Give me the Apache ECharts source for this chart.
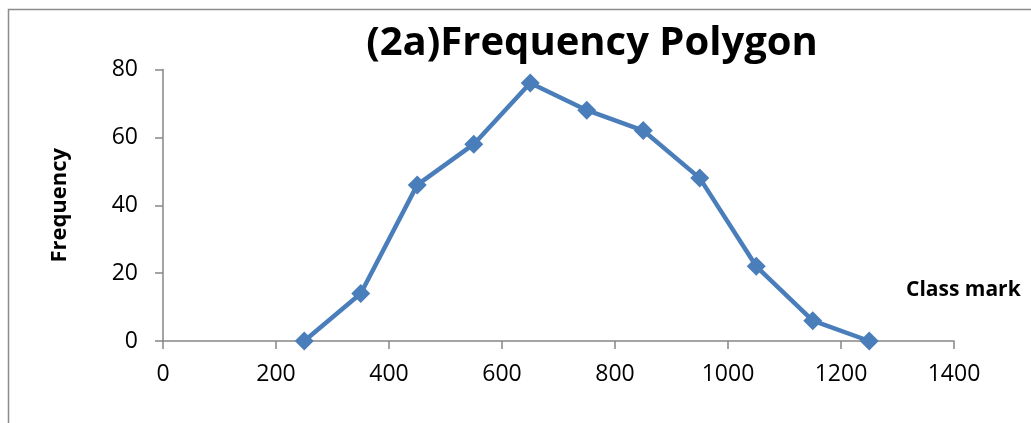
<!DOCTYPE html>
<html>
<head>
<meta charset="utf-8">
<script src="https://cdn.jsdelivr.net/npm/echarts@6/dist/echarts.min.js"></script>
<style>
html,body{margin:0;padding:0;background:#fff;}
#chart{width:1031px;height:423px;}
</style>
</head>
<body>
<div id="chart"></div>
<script>
var classMarks = [250, 350, 450, 550, 650, 750, 850, 950, 1050, 1150, 1250];
var frequencies = [0, 14, 46, 58, 76, 68, 62, 48, 22, 6, 0];
var xTicks = [0, 200, 400, 600, 800, 1000, 1200, 1400];
var yTicks = [0, 20, 40, 60, 80];

var points = classMarks.map(function (x, i) { return [x, frequencies[i]]; });
var chart = echarts.init(document.getElementById('chart'));
var font = 'Open Sans';
chart.setOption({
  animation: false,
  backgroundColor: '#fff',
  title: {
    text: '(2a)Frequency Polygon',
    left: 587, top: 19, textAlign: 'center',
    textStyle: { fontFamily: font, fontWeight: 'bold', fontSize: 40, color: '#000' }
  },
  graphic: [{
    type: 'rect', silent: true,
    shape: { x: 8.5, y: 9.5, width: 1100, height: 500 },
    style: { fill: 'none', stroke: '#8c8c8c', lineWidth: 1.5 }
  }, {
    type: 'text', left: 906, top: 280,
    style: { text: 'Class mark', fontFamily: font, fontWeight: 'bold', fontSize: 21, fill: '#000' }
  }],
  grid: { left: 163, right: 77, top: 69.5, bottom: 82, containLabel: false },
  xAxis: {
    type: 'value', min: xTicks[0], max: xTicks[xTicks.length - 1], interval: 200,
    axisLine: { show: true, onZero: false, lineStyle: { color: '#868686', width: 1.5 } },
    axisTick: { show: true, length: 8, lineStyle: { color: '#868686', width: 1.5 } },
    axisLabel: { margin: 22, fontFamily: font, fontSize: 23, color: '#000',
      formatter: function (v) { return String(v); } },
    splitLine: { show: false }
  },
  yAxis: {
    type: 'value', min: yTicks[0], max: yTicks[yTicks.length - 1], interval: 20,
    name: 'Frequency', nameLocation: 'middle', nameGap: 92, nameRotate: 90,
    nameTextStyle: { fontFamily: font, fontWeight: 'bold', fontSize: 22, color: '#000' },
    axisLine: { show: true, lineStyle: { color: '#868686', width: 1.5 } },
    axisTick: { show: true, length: 8, lineStyle: { color: '#868686', width: 1.5 } },
    axisLabel: { margin: 25, fontFamily: font, fontSize: 23, color: '#000',
      formatter: function (v) { return String(v); } },
    splitLine: { show: false }
  },
  series: [{
    type: 'line', data: points,
    symbol: 'diamond', symbolSize: 19, showAllSymbol: true,
    lineStyle: { color: '#4a7ebb', width: 4.5 },
    itemStyle: { color: '#4a7ebb' },
    clip: false
  }]
});
</script>
</body>
</html>
